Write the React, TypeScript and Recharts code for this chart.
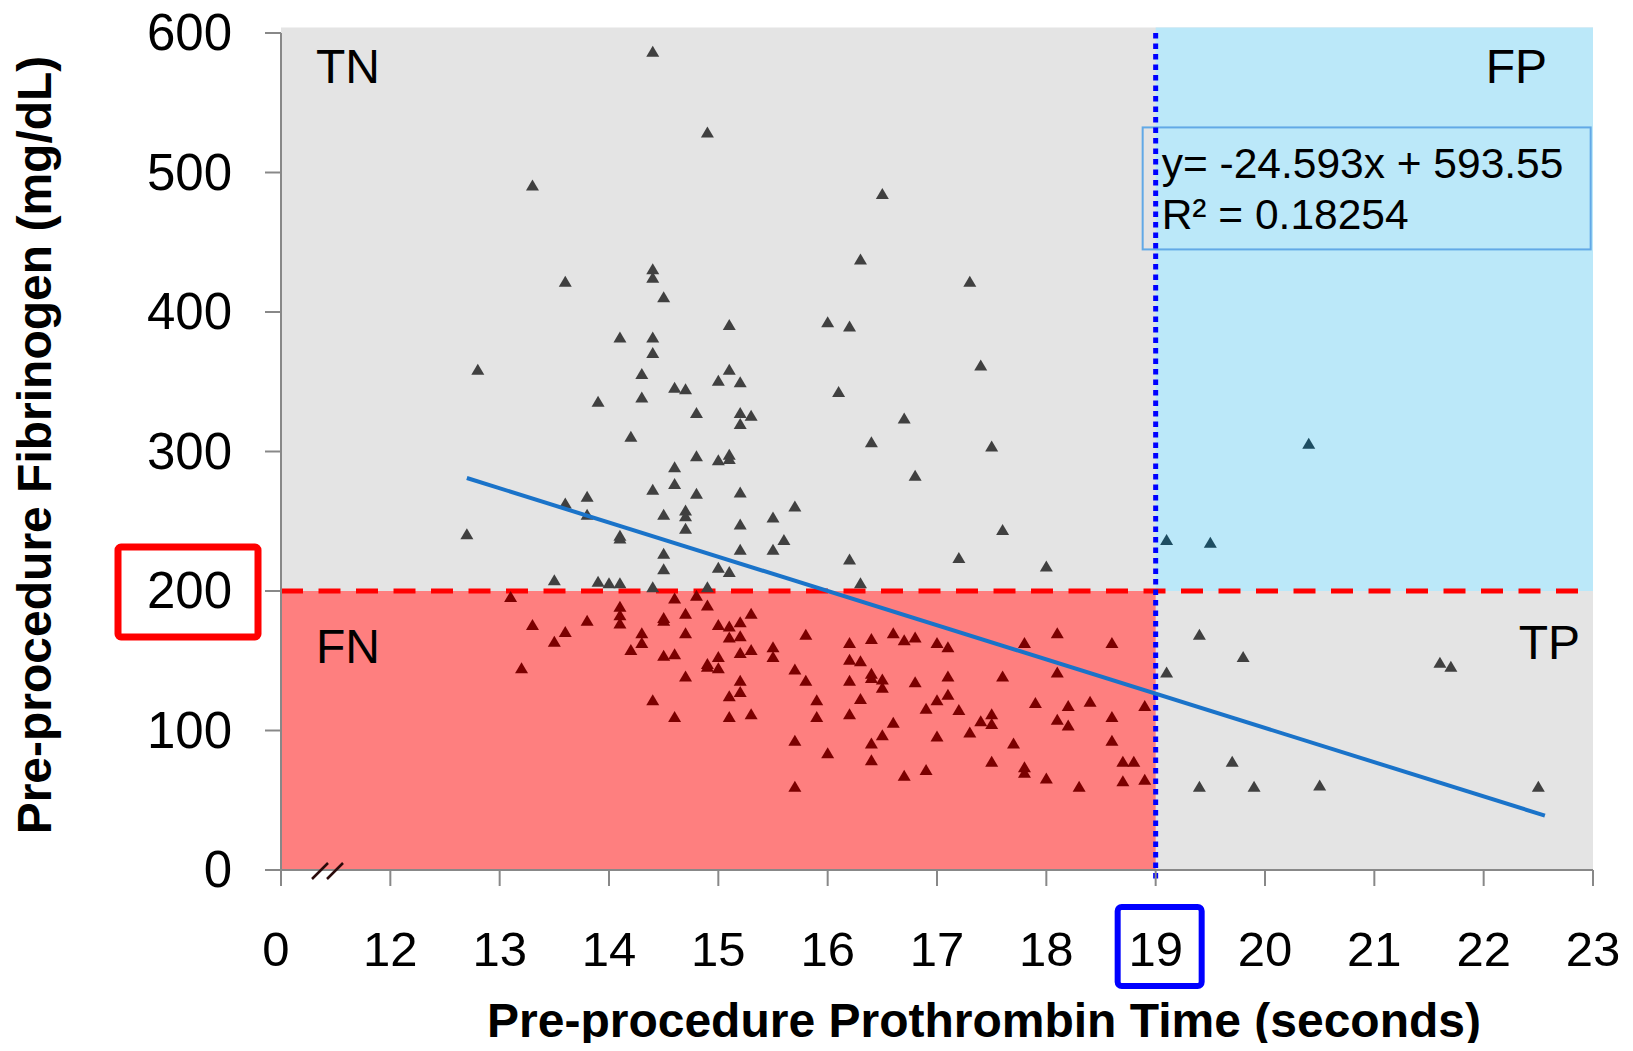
import { ScatterChart, Scatter, XAxis, YAxis, ReferenceArea, ReferenceLine, Label } from 'recharts'

const FONT = 'Liberation Sans, Arial, sans-serif'

const X_TICKS = [11, 12, 13, 14, 15, 16, 17, 18, 19, 20, 21, 22, 23]
const Y_TICKS = [0, 100, 200, 300, 400, 500, 600]
const PT_CUTOFF = 19
const FIB_CUTOFF = 200
const QUADRANTS = ['TN', 'FP', 'FN', 'TP']
const TREND_TEXT = ['y= -24.593x + 593.55', 'R² = 0.18254']

// [prothrombin time, fibrinogen]
const TN_POINTS = [
  [14.4, 587], [14.9, 529], [13.3, 491], [16.5, 485], [16.3, 438], [14.4, 431], [14.4, 425], [13.6, 422],
  [17.3, 422], [14.5, 411], [15.1, 391], [16.0, 393], [16.2, 390], [14.1, 382], [14.4, 382], [14.4, 371],
  [12.8, 359], [15.1, 359], [14.3, 356], [15.0, 351], [15.2, 350], [14.6, 346], [14.7, 345], [17.4, 362],
  [16.1, 343], [13.9, 336], [14.3, 339], [14.8, 328], [15.2, 328], [15.3, 326], [15.2, 320], [16.7, 324],
  [14.2, 311], [16.4, 307], [17.5, 304], [14.8, 297], [15.0, 294], [15.1, 298], [15.1, 295], [16.8, 283],
  [14.6, 289], [14.4, 273], [14.6, 277], [14.8, 270], [15.2, 271], [13.8, 268], [13.6, 263], [15.7, 261],
  [14.7, 258], [14.7, 254], [13.8, 255], [14.5, 255], [15.5, 253], [15.2, 248], [14.7, 245], [17.6, 244],
  [12.7, 241], [14.1, 240], [14.1, 238], [15.6, 237], [15.5, 230], [15.2, 230], [14.5, 227], [16.2, 223],
  [17.2, 224], [18.0, 218], [14.5, 216], [15.0, 217], [15.1, 214], [13.5, 208], [13.9, 207], [14.0, 206],
  [14.1, 206], [14.4, 203], [14.9, 203], [16.3, 206],
]

const FN_POINTS = [
  [13.1, 196], [13.3, 176], [13.6, 171], [13.5, 164], [13.2, 145], [13.8, 179], [14.1, 189], [14.1, 183],
  [14.1, 177], [14.3, 170], [14.3, 163], [14.2, 158], [14.5, 181], [14.5, 179], [14.6, 195], [14.8, 197],
  [14.9, 190], [14.7, 184], [14.7, 170], [14.5, 154], [14.6, 155], [15.0, 176], [15.1, 175], [15.2, 178],
  [15.3, 184], [15.1, 167], [15.2, 168], [15.2, 156], [15.3, 158], [14.9, 148], [14.9, 146], [15.0, 153],
  [15.0, 145], [14.7, 139], [15.5, 160], [15.5, 153], [15.7, 144], [15.2, 136], [15.2, 128], [15.1, 125],
  [14.4, 122], [14.6, 110], [15.1, 110], [15.3, 112], [15.8, 169], [16.2, 163], [16.4, 166], [16.6, 170],
  [16.7, 165], [16.8, 167], [17.0, 163], [17.1, 160], [17.8, 163], [18.1, 170], [18.6, 163], [15.8, 136],
  [16.2, 151], [16.3, 150], [16.2, 136], [16.4, 141], [16.4, 138], [16.5, 137], [16.5, 131], [16.8, 135],
  [17.1, 139], [17.1, 126], [17.0, 122], [16.9, 116], [17.2, 115], [17.6, 139], [18.1, 142], [15.9, 122],
  [15.9, 110], [16.3, 123], [16.2, 112], [16.6, 106], [16.5, 97], [16.4, 91], [16.4, 79], [15.7, 93],
  [16.0, 84], [15.7, 60], [16.7, 68], [16.9, 72], [17.0, 96], [17.4, 107], [17.5, 112], [17.5, 105],
  [17.3, 99], [17.5, 78], [17.7, 91], [17.8, 74], [17.8, 70], [17.9, 120], [18.0, 66], [18.1, 108],
  [18.2, 118], [18.2, 104], [18.3, 60], [18.4, 121], [18.6, 110], [18.6, 93], [18.7, 78], [18.8, 78],
  [18.7, 64], [18.9, 118], [18.9, 65],
]

const FP_POINTS = [[20.4, 306], [19.1, 237], [19.5, 235]]

const TP_POINTS = [
  [19.4, 169], [19.8, 153], [19.1, 142], [21.6, 149], [21.7, 146],
  [19.7, 78], [19.4, 60], [19.9, 60], [20.5, 61], [22.5, 60],
]

const TREND_LINE = [[12.7, 281], [22.56, 39]]

const toXY = (pts: number[][]) => pts.map(([x, y]) => ({ x, y }))

const triangle = (color: string) => (props: any) => {
  const { cx, cy } = props
  return <polygon points={`${cx},${cy - 5.5} ${cx + 6.5},${cy + 5.5} ${cx - 6.5},${cy + 5.5}`} fill={color} />
}

function XTick({ x, y, payload }: any) {
  const v = payload.value
  return (
    <g>
      {v === X_TICKS[0] && (
        <g stroke="#2a0a0a" strokeWidth={2.5}>
          <line x1={x + 31} y1={y - 7} x2={x + 47} y2={y - 23} />
          <line x1={x + 46} y1={y - 7} x2={x + 62} y2={y - 23} />
        </g>
      )}
      {v === PT_CUTOFF && (
        <rect x={x - 38} y={y + 21} width={84} height={79} rx={4} fill="none" stroke="#0000ff" strokeWidth={6} />
      )}
      <text x={v === X_TICKS[0] ? x - 5 : x} y={y + 80} textAnchor="middle" fontSize={49} fontFamily={FONT} fill="#000">
        {v === X_TICKS[0] ? '0' : v}
      </text>
    </g>
  )
}

function YTick({ x, y, payload }: any) {
  const v = payload.value
  return (
    <g>
      {v === FIB_CUTOFF && (
        <rect x={x - 147} y={y - 44} width={140} height={90} rx={3} fill="none" stroke="#ff0000" strokeWidth={7} />
      )}
      <text x={x - 33} y={y + 17} textAnchor="end" fontSize={51} fontFamily={FONT} fill="#000">{v}</text>
    </g>
  )
}

const quadText = (text: string, anchor: 'start' | 'end', dx: number, dy: number) => (props: any) => {
  const vb = props.viewBox || {}
  const x = anchor === 'start' ? vb.x + dx : vb.x + vb.width - dx
  return (
    <text x={x} y={vb.y + dy} textAnchor={anchor} fontSize={48} fontFamily={FONT} fill="#000">{text}</text>
  )
}

const fpLabel = (props: any) => {
  const vb = props.viewBox || {}
  return (
    <g>
      <rect x={vb.x - 13} y={vb.y + 100} width={448} height={122} fill="none" stroke="#62a9e6" strokeWidth={2} />
      <text x={vb.x + 6} y={vb.y + 151} fontSize={42.5} fontFamily={FONT} fill="#000">{TREND_TEXT[0]}</text>
      <text x={vb.x + 6} y={vb.y + 202} fontSize={42.5} fontFamily={FONT} fill="#000">{TREND_TEXT[1]}</text>
      <text x={vb.x + vb.width - 46} y={vb.y + 56} textAnchor="end" fontSize={48} fontFamily={FONT} fill="#000">
        {QUADRANTS[1]}
      </text>
    </g>
  )
}

export default function App() {
  return (
    <div style={{ width: 1633, height: 1051, margin: -8, background: '#fff' }}>
      <ScatterChart width={1633} height={1051} margin={{ top: 33, right: 40, left: 0, bottom: 0 }}>
        <XAxis
          type="number"
          dataKey="x"
          domain={[11, 23]}
          ticks={X_TICKS}
          interval={0}
          height={181}
          tickSize={16}
          tickMargin={0}
          tick={<XTick />}
          axisLine={{ stroke: '#888', strokeWidth: 2 }}
          tickLine={{ stroke: '#888', strokeWidth: 2 }}
          allowDataOverflow
        >
          <Label
            content={() => (
              <text x={984} y={1037} textAnchor="middle" fontSize={48} fontWeight="bold" fontFamily={FONT} fill="#000">
                Pre-procedure Prothrombin Time (seconds)
              </text>
            )}
          />
        </XAxis>
        <YAxis
          type="number"
          dataKey="y"
          domain={[0, 600]}
          ticks={Y_TICKS}
          interval={0}
          width={281}
          tickSize={16}
          tickMargin={0}
          tick={<YTick />}
          axisLine={{ stroke: '#888', strokeWidth: 2 }}
          tickLine={{ stroke: '#888', strokeWidth: 2 }}
          allowDataOverflow
        >
          <Label
            content={() => (
              <text
                x={51}
                y={445}
                transform="rotate(-90, 51, 445)"
                textAnchor="middle"
                fontSize={48}
                fontWeight="bold"
                fontFamily={FONT}
                fill="#000"
              >
                Pre-procedure Fibrinogen (mg/dL)
              </text>
            )}
          />
        </YAxis>

        <ReferenceArea x1={11} x2={23} y1={0} y2={604} fill="#e4e4e4" fillOpacity={1} stroke="none" ifOverflow="visible"
          label={quadText(QUADRANTS[0], 'start', 35, 56)} />
        <ReferenceArea x1={11} x2={PT_CUTOFF} y1={0} y2={FIB_CUTOFF} fill="#fe7f7f" fillOpacity={1} stroke="none"
          label={quadText(QUADRANTS[2], 'start', 35, 72)} />
        <ReferenceArea x1={PT_CUTOFF} x2={23} y1={FIB_CUTOFF} y2={604} fill="#bbe8f9" fillOpacity={1} stroke="none" ifOverflow="visible"
          label={fpLabel} />
        <ReferenceArea x1={PT_CUTOFF} x2={23} y1={0} y2={FIB_CUTOFF} fill="#e4e4e4" fillOpacity={0} stroke="none"
          label={quadText(QUADRANTS[3], 'end', 13, 68)} />

        <ReferenceLine y={FIB_CUTOFF} stroke="#ff0000" strokeWidth={5} strokeDasharray="22 15.5" />
        <ReferenceLine
          segment={[{ x: PT_CUTOFF, y: 600 }, { x: PT_CUTOFF, y: -9 }]}
          stroke="#0000ff"
          strokeWidth={5}
          strokeDasharray="5.5 5"
          ifOverflow="visible"
        />

        <Scatter data={toXY(TN_POINTS)} shape={triangle('#404040')} isAnimationActive={false} />
        <Scatter data={toXY(TP_POINTS)} shape={triangle('#404040')} isAnimationActive={false} />
        <Scatter data={toXY(FN_POINTS)} shape={triangle('#7b0000')} isAnimationActive={false} />
        <Scatter data={toXY(FP_POINTS)} shape={triangle('#1d4d62')} isAnimationActive={false} />
        <Scatter
          data={toXY(TREND_LINE)}
          line={{ stroke: '#1a73c9', strokeWidth: 4 }}
          shape={() => <g />}
          isAnimationActive={false}
        />
      </ScatterChart>
    </div>
  )
}
